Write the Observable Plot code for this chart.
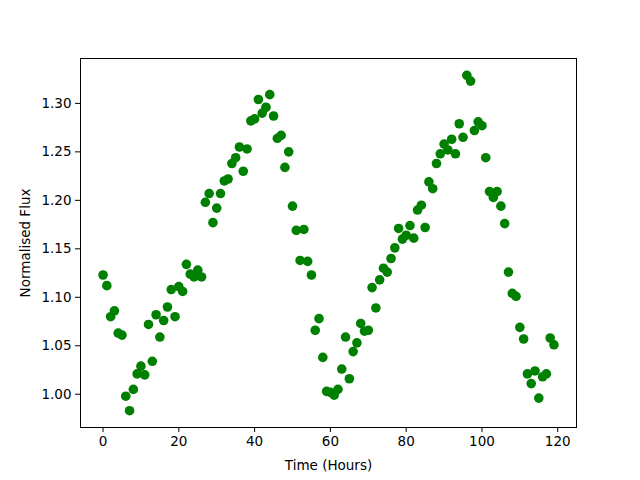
<!DOCTYPE html>
<html>
<head>
<meta charset="utf-8">
<script src="https://cdn.jsdelivr.net/npm/d3@7"></script>
<script src="https://cdn.jsdelivr.net/npm/@observablehq/plot@0.6"></script>
<style>
  html, body { margin: 0; padding: 0; background: #fff; }
</style>
</head>
<body>
<div id="chart"></div>
<script>
const hours = d3.range(0, 120);
const flux = [
  1.123, 1.112, 1.080, 1.086, 1.063, 1.061, 0.998, 0.983, 1.005, 1.021,
  1.029, 1.020, 1.072, 1.034, 1.082, 1.059, 1.076, 1.090, 1.108, 1.080,
  1.111, 1.106, 1.134, 1.124, 1.121, 1.128, 1.121, 1.198, 1.207, 1.177,
  1.192, 1.207, 1.220, 1.222, 1.238, 1.244, 1.255, 1.230, 1.253, 1.282,
  1.284, 1.304, 1.290, 1.296, 1.309, 1.287, 1.264, 1.267, 1.234, 1.250,
  1.194, 1.169, 1.138, 1.170, 1.137, 1.123, 1.066, 1.078, 1.038, 1.003,
  1.002, 0.999, 1.005, 1.026, 1.059, 1.016, 1.044, 1.053, 1.073, 1.065,
  1.066, 1.110, 1.089, 1.118, 1.130, 1.126, 1.140, 1.151, 1.171, 1.160,
  1.164, 1.174, 1.161, 1.190, 1.195, 1.172, 1.219, 1.212, 1.238, 1.248,
  1.258, 1.252, 1.263, 1.248, 1.279, 1.265, 1.329, 1.323, 1.272, 1.281,
  1.277, 1.244, 1.209, 1.203, 1.209, 1.194, 1.176, 1.126, 1.104, 1.101,
  1.069, 1.057, 1.021, 1.011, 1.024, 0.996, 1.018, 1.021, 1.058, 1.051
];
const xTicks = [0, 20, 40, 60, 80, 100, 120];
const yTicks = [1.00, 1.05, 1.10, 1.15, 1.20, 1.25, 1.30];

const data = hours.map((h, i) => ({time: h, flux: flux[i]}));

const xPad = 0.05 * (d3.max(hours) - d3.min(hours));
const yPad = 0.05 * (d3.max(flux) - d3.min(flux));

const chart = Plot.plot({
  width: 640,
  height: 480,
  marginLeft: 80,
  marginRight: 64,
  marginTop: 58,
  marginBottom: 53,
  style: {fontFamily: "DejaVu Sans", fontSize: "13.5px", color: "#000", background: "#fff"},
  x: {domain: [d3.min(hours) - xPad, d3.max(hours) + xPad]},
  y: {domain: [d3.min(flux) - yPad, d3.max(flux) + yPad]},
  marks: [
    Plot.axisX({ticks: xTicks, tickSize: 5, tickPadding: 4, tickFormat: d3.format("d"),
      label: "Time (Hours)", labelAnchor: "center", labelArrow: "none", labelOffset: 42,
      fontSize: 13.5, stroke: "#000"}),
    Plot.axisY({ticks: yTicks, tickSize: 5, tickPadding: 4, tickFormat: d3.format(".2f"),
      label: "Normalised Flux", labelAnchor: "center", labelArrow: "none", labelOffset: 60,
      fontSize: 13.5, stroke: "#000"}),
    Plot.dot(data, {x: "time", y: "flux", r: 4.8, fill: "#008000", stroke: "none"}),
    Plot.frame({stroke: "#000", strokeWidth: 1})
  ]
});
document.getElementById("chart").appendChild(chart);
</script>
</body>
</html>
